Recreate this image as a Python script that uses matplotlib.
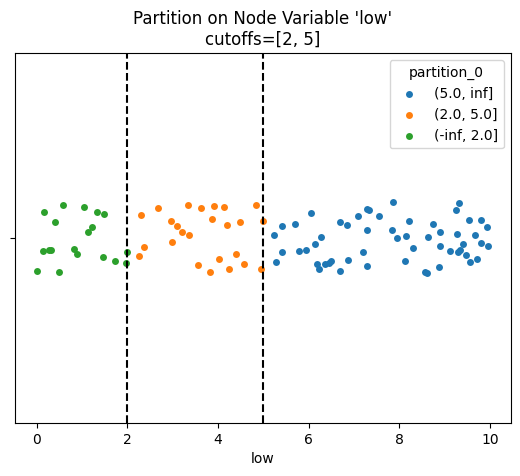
import matplotlib
matplotlib.use("Agg")
import matplotlib.pyplot as plt
import pandas as pd

# values (x = 'low', jit = strip jitter)
green_x = [0.154, 0.574, 1.043, 1.337, 1.485, 0.397, 1.227, 1.132, 0.132, 0.265,
           0.322, 0.823, 0.889, 1.469, 1.734, 1.985, 1.977, 0.013, 0.499]
green_jit = [-0.072, -0.089, -0.084, -0.071, -0.066, -0.043, -0.030, -0.017, 0.035, 0.032,
             0.031, 0.028, 0.042, 0.051, 0.061, 0.037, 0.066, 0.088, 0.092]

orange_x = [2.294, 2.683, 3.344, 3.631, 3.905, 4.132, 4.838, 2.969, 3.088, 3.205,
            3.366, 3.874, 4.205, 4.492, 4.986, 2.374, 2.978, 2.257, 3.558, 3.816,
            4.028, 4.236, 4.390, 4.580, 4.955]
orange_jit = [-0.064, -0.083, -0.089, -0.083, -0.087, -0.085, -0.091, -0.046, -0.032, -0.016,
              -0.010, -0.052, -0.037, -0.045, -0.046, 0.023, 0.011, 0.049, 0.073, 0.092,
              0.057, 0.084, 0.042, 0.070, 0.083]

blue_x = [5.242, 5.405, 5.698, 6.051, 5.272, 5.418, 5.786, 5.934, 6.146, 6.272,
          6.184, 6.221, 6.360, 6.448, 6.492, 6.691, 6.845, 6.698, 6.874, 7.095,
          7.280, 7.337, 7.558, 7.280, 7.198, 7.280, 7.860, 7.845, 7.948, 8.147,
          8.213, 8.308, 8.118, 8.559, 8.617, 8.626, 8.749, 8.890, 8.890, 8.882,
          9.118, 9.265, 9.257, 9.323, 9.301, 9.345, 9.411, 9.477, 9.530, 9.559,
          9.669, 9.720, 9.795, 9.795, 9.940, 9.962]
blue_jit = [-0.008, -0.033, -0.038, -0.068, 0.063, 0.037, 0.034, 0.032, 0.015, -0.004,
            0.071, 0.082, 0.070, 0.066, 0.062, -0.043, -0.037, 0.088, 0.058, -0.061,
            -0.078, -0.076, -0.061, -0.021, 0.036, 0.075, -0.099, -0.022, 0.000, -0.007,
            -0.046, 0.026, 0.062, 0.091, 0.095, -0.002, -0.038, -0.018, 0.021, 0.078,
            0.034, -0.012, -0.076, -0.094, 0.036, 0.031, 0.016, 0.044, -0.048, 0.064,
            -0.010, 0.056, -0.050, 0.012, -0.031, 0.020]

partitions = ["(5.0, inf]", "(2.0, 5.0]", "(-inf, 2.0]"]
cutoffs = [2, 5]

df = pd.concat([
    pd.DataFrame({"low": blue_x, "jit": blue_jit, "partition_0": partitions[0]}),
    pd.DataFrame({"low": orange_x, "jit": orange_jit, "partition_0": partitions[1]}),
    pd.DataFrame({"low": green_x, "jit": green_jit, "partition_0": partitions[2]}),
])

fig = plt.figure(figsize=(5.2, 4.76), dpi=100)
ax = fig.add_axes([0.0294, 0.111, 0.9527, 0.777])

colors = ["C0", "C1", "C2"]
for p, c in zip(partitions, colors):
    sub = df[df["partition_0"] == p]
    ax.scatter(sub["low"], sub["jit"], s=25, color=c, linewidths=0, label=p)

for c in cutoffs:
    ax.axvline(c, color="black", linestyle="--", linewidth=1.5)

ax.set_xlim(-0.472, 10.457)
ax.set_ylim(0.5, -0.5)
ax.set_yticks([0])
ax.set_yticklabels([""])
ax.set_xlabel("low")
ax.set_title("Partition on Node Variable 'low'\ncutoffs=[2, 5]")
ax.legend(title="partition_0", loc="upper right")

fig.savefig("out.png", dpi=100)
